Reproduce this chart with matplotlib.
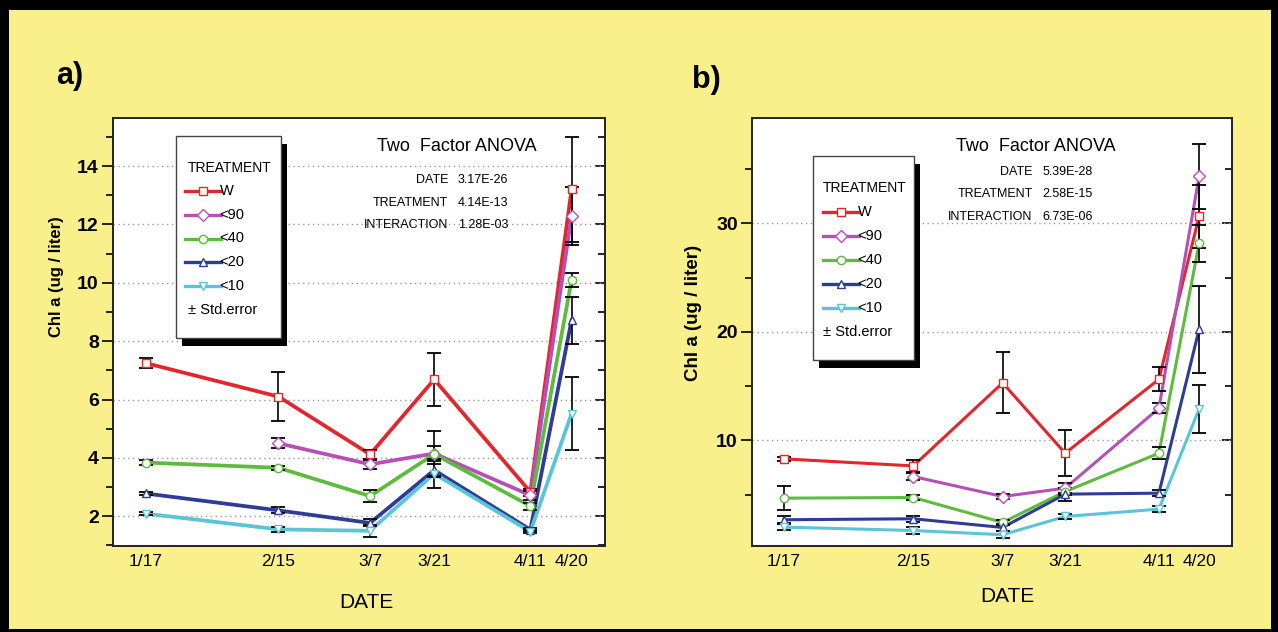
import numpy as np
import matplotlib
matplotlib.use("Agg")
import matplotlib.pyplot as plt
from matplotlib.patches import Rectangle
from matplotlib.lines import Line2D
from matplotlib.ticker import MultipleLocator

# ---- data -------------------------------------------------------------
dates = ["1/17", "2/15", "3/7", "3/21", "4/11", "4/20"]
day = [17, 46, 66, 80, 101, 110]          # day of year for each sampling date
treatments = ["W", "<90", "<40", "<20", "<10"]

nan = np.nan
# panel a
a_W = [7.25, 6.1, 4.12, 6.69, 2.83, 13.2]
a_W_err = [0.18, 0.85, 0.15, 0.9, 0.12, 1.8]
a_90 = [nan, 4.5, 3.78, 4.15, 2.72, 12.3]
a_90_err = [nan, 0.17, 0.15, 0.25, 0.15, 1.0]
a_40 = [3.84, 3.66, 2.69, 4.13, 2.35, 10.1]
a_40_err = [0.08, 0.07, 0.2, 0.8, 0.12, 0.25]
a_20 = [2.78, 2.2, 1.77, 3.58, 1.54, 8.72]
a_20_err = [0.06, 0.1, 0.12, 0.2, 0.06, 0.8]
a_10 = [2.09, 1.55, 1.5, 3.46, 1.47, 5.52]
a_10_err = [0.05, 0.08, 0.2, 0.5, 0.05, 1.25]

# panel b
b_W = [8.3, 7.65, 15.3, 8.82, 15.63, 30.65]
b_W_err = [0.2, 0.55, 2.8, 2.1, 1.1, 2.9]
b_90 = [nan, 6.67, 4.83, 5.6, 12.96, 34.33]
b_90_err = [nan, 0.3, 0.2, 0.45, 0.45, 3.0]
b_40 = [4.68, 4.74, 2.44, 5.29, 8.82, 28.14]
b_40_err = [1.1, 0.2, 0.2, 0.3, 0.55, 1.7]
b_20 = [2.69, 2.78, 1.98, 5.05, 5.14, 20.23]
b_20_err = [0.3, 0.3, 0.3, 0.6, 0.3, 4.0]
b_10 = [2.01, 1.7, 1.31, 2.99, 3.67, 12.9]
b_10_err = [0.3, 0.3, 0.3, 0.2, 0.3, 2.2]

anova_names = ["DATE", "TREATMENT", "INTERACTION"]
anova_a = ["3.17E-26", "4.14E-13", "1.28E-03"]
anova_b = ["5.39E-28", "2.58E-15", "6.73E-06"]

colors = ["#E3262B", "#B650B4", "#5DBB3F", "#2E3C96", "#5AC5D6"]
markers = ["s", "D", "o", "^", "v"]

# ---- styling ----------------------------------------------------------
plt.rcParams["font.family"] = ["Liberation Sans", "DejaVu Sans"]
BG = "#FAF08B"
W, H = 1278, 632


def fx(x):
    return x / W


def fy(y):
    return 1 - y / H


fig = plt.figure(figsize=(12.78, 6.32), dpi=100, facecolor=BG)

# black frame round the picture
for (x, y, w, h) in [(0, 0, W, 10), (0, 0, 9, H), (W - 7, 0, 7, H), (0, H - 3, W, 3)]:
    fig.patches.append(Rectangle((fx(x), fy(y + h)), w / W, h / H,
                                 transform=fig.transFigure, fc="black", ec="none", zorder=10))


def panel(rect, series, errs, ylim, major, minor, lw):
    ax = fig.add_axes(rect)
    ax.set_facecolor("white")
    for vals, err, c, m in zip(series, errs, colors, markers):
        ax.plot(day, vals, color=c, lw=lw, zorder=3)
        ax.errorbar(day, vals, yerr=err, fmt="none", ecolor="black",
                    elinewidth=1.2, capsize=5, capthick=1.3, zorder=4)
        ax.plot(day, vals, ls="none", marker=m, ms=6, mfc="white", mec=c,
                mew=1.0, zorder=5)
    ax.set_xlim(9.8, 117.3)
    ax.set_ylim(*ylim)
    ax.set_xticks(day)
    ax.set_xticklabels(dates, fontsize=12.5)
    ax.yaxis.set_major_locator(MultipleLocator(major))
    ax.yaxis.set_minor_locator(MultipleLocator(minor))
    ax.tick_params(axis="x", length=0, pad=6)
    ax.tick_params(axis="y", which="major", direction="out", length=8, width=1.2,
                   labelsize=14, pad=2)
    ax.tick_params(axis="y", which="minor", direction="out", length=5, width=1.2)
    for lab in ax.get_yticklabels():
        lab.set_fontweight("bold")
    ax.yaxis.grid(True, which="major", ls=(0, (1, 2.5)), color="#9a9a9a", lw=1)
    ax.set_axisbelow(True)
    for s in ax.spines.values():
        s.set_linewidth(1.4)
        s.set_color("#222222")
    sec = ax.secondary_yaxis("right")
    sec.yaxis.set_major_locator(MultipleLocator(major))
    sec.yaxis.set_minor_locator(MultipleLocator(minor))
    sec.tick_params(which="both", direction="in", labelright=False, width=1.2)
    sec.tick_params(which="major", length=7)
    sec.tick_params(which="minor", length=5)
    sec.spines["right"].set_visible(False)
    return ax


ax_a = panel([fx(112.7), fy(546), (605 - 112.7) / W, (546 - 118) / H],
             [a_W, a_90, a_40, a_20, a_10],
             [a_W_err, a_90_err, a_40_err, a_20_err, a_10_err],
             (0.98, 15.65), 2, 1, 2.7)
ax_b = panel([fx(751.7), fy(545.7), (1231.7 - 751.7) / W, (545.7 - 118) / H],
             [b_W, b_90, b_40, b_20, b_10],
             [b_W_err, b_90_err, b_40_err, b_20_err, b_10_err],
             (0.3, 39.7), 10, 5, 2.2)


def legend_box(x0, y0, x1, y1, tx, title_y, row0, dy, lx0, lx1):
    fig.patches.append(Rectangle((fx(x0 + 6), fy(y1 + 8)), (x1 - x0) / W, (y1 - y0) / H,
                                 transform=fig.transFigure, fc="black", ec="none", zorder=6))
    fig.patches.append(Rectangle((fx(x0), fy(y1)), (x1 - x0) / W, (y1 - y0) / H,
                                 transform=fig.transFigure, fc="white", ec="#444444",
                                 lw=1, zorder=7))
    fig.text(fx(tx), fy(title_y), "TREATMENT", fontsize=10, va="center", zorder=8)
    for i, (name, c, m) in enumerate(zip(treatments, colors, markers)):
        y = row0 + i * dy
        fig.add_artist(Line2D([fx(lx0), fx(lx1)], [fy(y), fy(y)], color=c, lw=2.4,
                              transform=fig.transFigure, zorder=8))
        fig.add_artist(Line2D([fx((lx0 + lx1) / 2)], [fy(y)], marker=m, ms=6,
                              mfc="white", mec=c, mew=1.0, ls="none",
                              transform=fig.transFigure, zorder=9))
        fig.text(fx(lx1 - 1), fy(y), name, fontsize=10.5, va="center", zorder=8)
    fig.text(fx(tx), fy(row0 + 5 * dy), "\u00b1 Std.error", fontsize=10.5, va="center", zorder=8)


legend_box(176.4, 136, 280.8, 338, 187.8, 167.8, 190.7, 23.9, 185.4, 220.5)
legend_box(812.9, 156, 914, 360, 822.9, 187.7, 211.7, 24, 822.9, 858.6)


def anova(cx, title_y, split_x, row0, dy, values):
    fig.text(fx(cx), fy(title_y), "Two  Factor ANOVA", fontsize=13,
             ha="center", va="center")
    for i, (n, v) in enumerate(zip(anova_names, values)):
        y = row0 + i * dy
        fig.text(fx(split_x), fy(y), n, fontsize=9, ha="right", va="center")
        fig.text(fx(split_x + 10), fy(y), v, fontsize=9, ha="left", va="center")


anova(457, 146.7, 448, 180, 22.5, anova_a)
anova(1036, 146.7, 1032.5, 171.7, 22.5, anova_b)

# axis titles and panel letters
ylab = "Chl a (ug / liter)"
fig.text(fx(57), fy(277), ylab, rotation=90, fontsize=12, fontweight="bold",
         ha="center", va="center")
fig.text(fx(693), fy(313), ylab, rotation=90, fontsize=13.5, fontweight="bold",
         ha="center", va="center")
fig.text(fx(366), fy(603), "DATE", fontsize=15, ha="center", va="center")
fig.text(fx(1007), fy(597), "DATE", fontsize=15, ha="center", va="center")
fig.text(fx(70), fy(76), "a)", fontsize=22, fontweight="bold", ha="center", va="center")
fig.text(fx(706), fy(80), "b)", fontsize=22, fontweight="bold", ha="center", va="center")

fig.savefig("out.png", dpi=100, facecolor=BG)
